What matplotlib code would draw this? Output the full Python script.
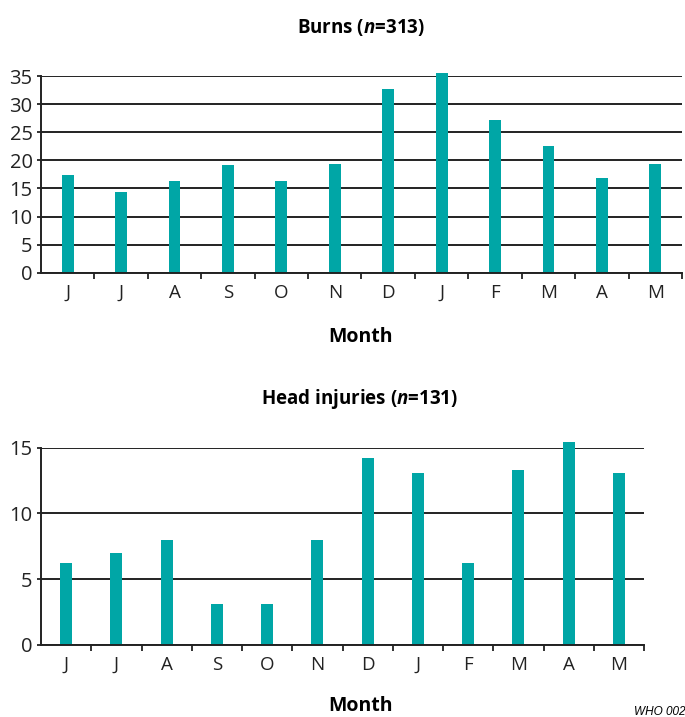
import numpy as np
import matplotlib.pyplot as plt

plt.rcParams['font.family'] = ['Open Sans', 'DejaVu Sans']
plt.rcParams['mathtext.fontset'] = 'custom'
plt.rcParams['mathtext.bfit'] = 'Open Sans:italic:bold'

months = ['J', 'J', 'A', 'S', 'O', 'N', 'D', 'J', 'F', 'M', 'A', 'M']
burns = [17.4, 14.4, 16.3, 19.1, 16.3, 19.3, 32.6, 35.5, 27.2, 22.5, 16.8, 19.4]
head = [6.2, 7.0, 8.0, 3.1, 3.1, 8.0, 14.2, 13.1, 6.2, 13.3, 15.4, 13.1]
burns_ticks = [0, 5, 10, 15, 20, 25, 30, 35]
head_ticks = [0, 5, 10, 15]

teal = '#00a6a6'
W, H = 685, 717
fig = plt.figure(figsize=(W / 100, H / 100), dpi=100)


def panel(rect, vals, yticks, width):
    ax = fig.add_axes(rect)
    x = np.arange(len(vals))
    ax.bar(x, vals, width=width, color=teal, zorder=3, clip_on=False)
    ax.set_xlim(-0.5, len(vals) - 0.5)
    ax.set_ylim(0, yticks[-1])
    ax.set_yticks(yticks)
    ax.set_xticks(x)
    ax.set_xticklabels(months)
    ax.set_xticks(np.arange(0.5, len(vals), 1), minor=True)
    ax.tick_params(axis='x', which='major', length=0, pad=8, labelsize=13.5, colors='#222')
    ax.tick_params(axis='x', which='minor', length=4, width=1.3, direction='out', color='#222')
    ax.tick_params(axis='y', length=3, width=1.3, pad=3, labelsize=14.5, colors='#222')
    ax.yaxis.grid(True, color='#222', lw=1.4, zorder=1)
    for s in ['top', 'right']:
        ax.spines[s].set_visible(False)
    for s in ['left', 'bottom']:
        ax.spines[s].set_linewidth(1.4)
        ax.spines[s].set_color('#222')
        ax.spines[s].set_zorder(4)
    return ax


panel([41 / W, 1 - 272.7 / H, 641 / W, (272.7 - 76) / H], burns, burns_ticks, 0.22)
panel([41 / W, 1 - 645 / H, 603 / W, (645 - 447.7) / H], head, head_ticks, 0.24)

fig.text(361 / W, 1 - 27 / H, r'Burns ($\mathbfit{n}$=313)', ha='center', va='center',
         fontsize=13.5, fontweight='bold')
fig.text(360 / W, 1 - 337 / H, 'Month', ha='center', va='center', fontsize=14, fontweight='bold')
fig.text(360 / W, 1 - 399 / H, r'Head injuries ($\mathbfit{n}$=131)', ha='center', va='center',
         fontsize=13.5, fontweight='bold')
fig.text(360 / W, 1 - 706 / H, 'Month', ha='center', va='center', fontsize=14, fontweight='bold')
fig.text(634 / W, 1 - 712 / H, 'WHO 002', ha='left', va='center', fontsize=8.5,
         style='italic', family='Liberation Sans')

fig.savefig('out.png', dpi=100)
